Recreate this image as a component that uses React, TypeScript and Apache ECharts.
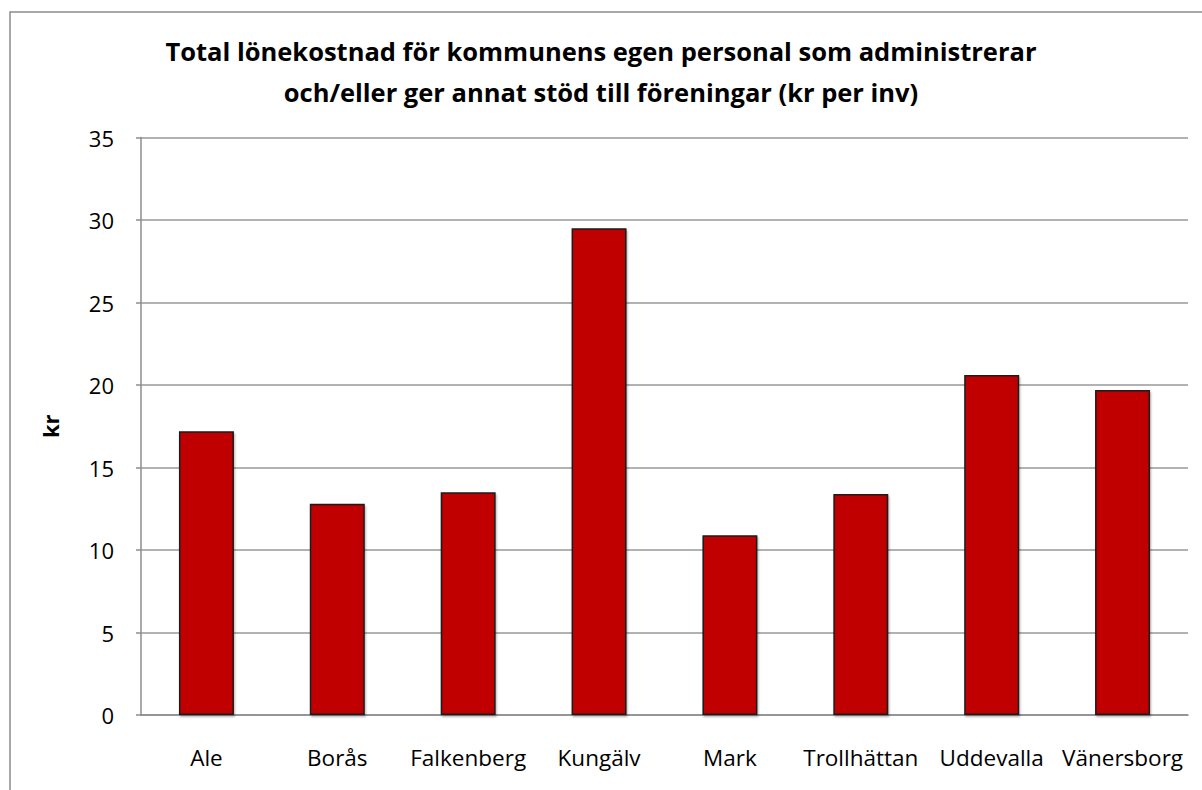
import React, { useEffect, useRef } from "react";
import * as echarts from "echarts";

const categories = ["Ale", "Borås", "Falkenberg", "Kungälv", "Mark", "Trollhättan", "Uddevalla", "Vänersborg"];
const values = [17.2, 12.8, 13.5, 29.5, 10.9, 13.4, 20.6, 19.7];
const titleLines = [
  "Total lönekostnad för kommunens egen personal som administrerar",
  "och/eller ger annat stöd till föreningar (kr per inv)",
];
const yAxisName = "kr";

export default function App() {
  const ref = useRef<HTMLDivElement>(null);
  useEffect(() => {
    document.body.style.margin = "0";
    const chart = echarts.init(ref.current!, undefined, { renderer: "svg" });
    chart.setOption({
      animation: false,
      backgroundColor: "#fff",
      title: {
        text: titleLines.join("\n"),
        left: "center",
        top: 25,
        textStyle: {
          fontFamily: "Open Sans",
          fontWeight: "bold",
          fontSize: 25.5,
          lineHeight: 41,
          color: "#000",
        },
      },
      graphic: [
        {
          type: "rect",
          shape: { x: 10, y: 12, width: 1300, height: 900 },
          style: { fill: "none", stroke: "#8c8c8c", lineWidth: 1.5 },
          silent: true,
        },
      ],
      grid: { left: 141, right: 14, top: 137.5, bottom: 75 },
      xAxis: {
        type: "category",
        data: categories,
        axisLine: { lineStyle: { color: "#8c8c8c", width: 1.5 } },
        axisTick: { show: false },
        axisLabel: { fontFamily: "Open Sans", fontSize: 22.5, color: "#000", margin: 31, interval: 0 },
      },
      yAxis: {
        type: "value",
        min: 0,
        max: 35,
        interval: 5,
        name: yAxisName,
        nameLocation: "middle",
        nameRotate: 90,
        nameGap: 80,
        nameTextStyle: { fontFamily: "Open Sans", fontWeight: "bold", fontSize: 22, color: "#000" },
        axisLine: { show: true, lineStyle: { color: "#8c8c8c", width: 1.5 } },
        axisTick: { show: true, length: 5, lineStyle: { color: "#8c8c8c", width: 1.5 } },
        axisLabel: { fontFamily: "Open Sans", fontSize: 22, color: "#000", margin: 27 },
        splitLine: { lineStyle: { color: "#999", width: 1.5 } },
      },
      series: [
        {
          type: "bar",
          data: values,
          barCategoryGap: "58%",
          itemStyle: {
            color: "#c00000",
            borderColor: "#1a1a1a",
            borderWidth: 1.5,
            shadowColor: "rgba(0,0,0,0.3)",
            shadowOffsetX: 1,
            shadowOffsetY: 2,
            shadowBlur: 2,
          },
        },
      ],
    });
    return () => chart.dispose();
  }, []);
  return <div ref={ref} style={{ width: 1202, height: 790 }} />;
}
